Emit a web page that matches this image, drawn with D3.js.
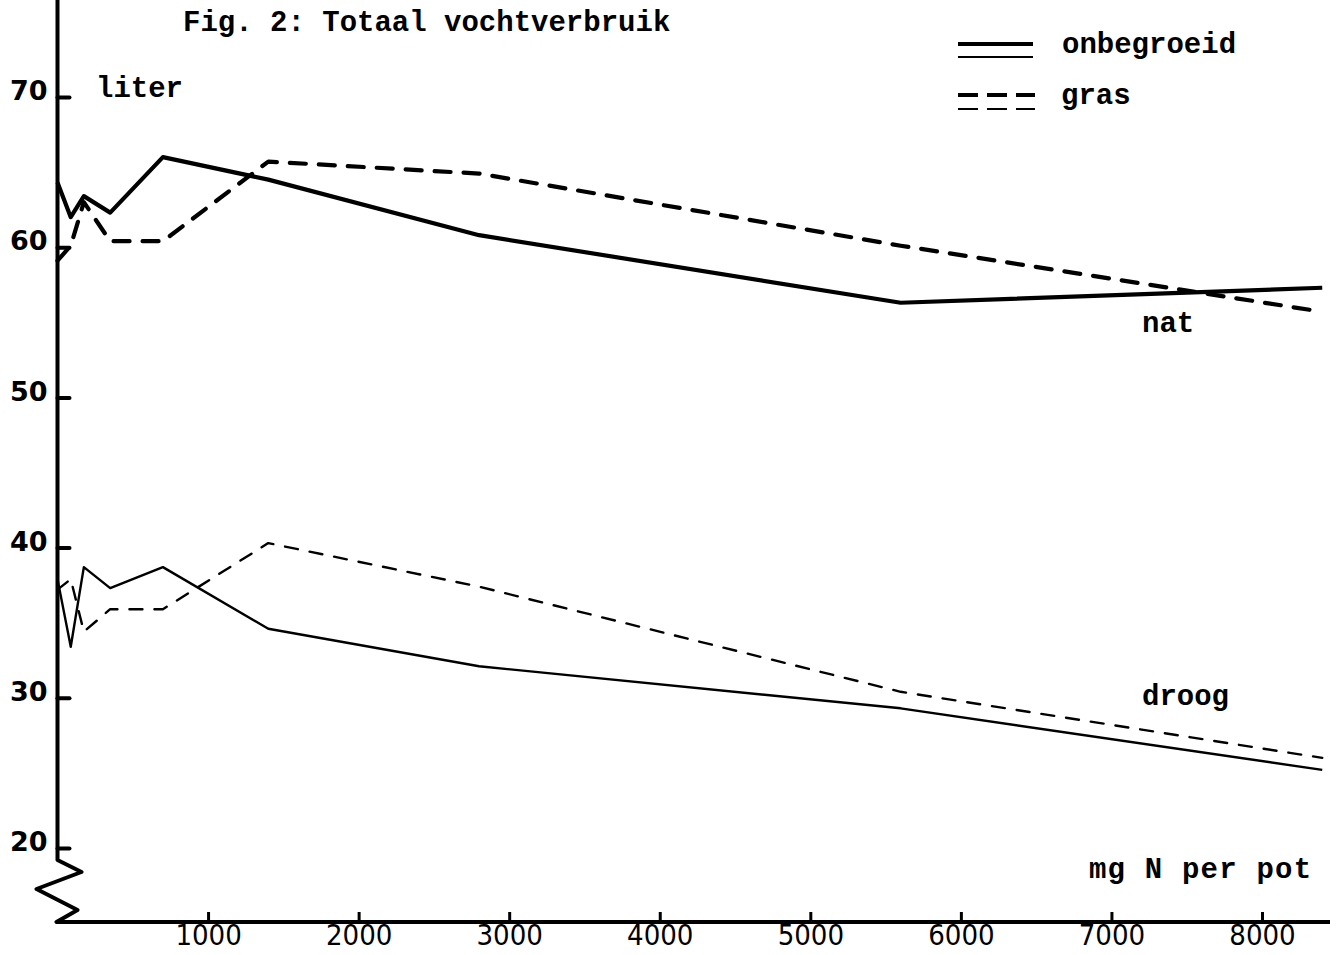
<!DOCTYPE html>
<html>
<head>
<meta charset="utf-8">
<script src="https://cdn.jsdelivr.net/npm/d3@7"></script>
<style>
  html, body { margin: 0; padding: 0; background: #fff; }
  svg { display: block; }
  .tw { font-family: "Liberation Mono", "DejaVu Sans Mono", monospace; font-weight: bold; fill: #000; }
</style>
</head>
<body>
<svg id="chart" width="1341" height="955"></svg>
<script>
// N dose per pot (mg) and total water use (liter)
const doses = [0, 88, 175, 350, 700, 1400, 2800, 5600, 8400];
const onbegroeidNat   = [64.3, 62.0, 63.4, 62.3, 66.0, 64.5, 60.8, 56.3, 57.3];
const grasNat         = [59.1, 60.1, 63.0, 60.4, 60.4, 65.7, 64.9, 60.1, 55.7];
const onbegroeidDroog = [37.9, 33.4, 38.7, 37.3, 38.7, 34.6, 32.1, 29.3, 25.2];
const grasDroog       = [37.2, 37.9, 34.4, 35.9, 35.9, 40.3, 37.4, 30.4, 26.0];

const xTicks = [1000, 2000, 3000, 4000, 5000, 6000, 7000, 8000];
const yTicks = [20, 30, 40, 50, 60, 70];

const svg = d3.select("#chart");
const x = d3.scaleLinear().domain([0, 8000]).range([57.5, 1262]);
const y = d3.scaleLinear().domain([20, 70]).range([848, 97]);
const x0 = x(0);
const axisY = 922;

// Axes lines, with the broken-scale zigzag at the bottom of the vertical axis
svg.append("path")
  .attr("d", `M${x0},0 L${x0},860 L${x0 + 24},872 L${x0 - 21},889 L${x0 + 20},910 L${x0 - 1},${axisY} L1330,${axisY}`)
  .attr("fill", "none").attr("stroke", "#000").attr("stroke-width", 4)
  .attr("stroke-linejoin", "round");

// Vertical axis ticks and labels
const yAxis = d3.axisLeft(y).tickValues(yTicks).tickSize(-12).tickPadding(10).tickFormat(d3.format("d"));
const gy = svg.append("g").attr("transform", `translate(${x0},0)`).call(yAxis);
gy.select(".domain").remove();
gy.selectAll(".tick line").attr("stroke", "#000").attr("stroke-width", 4).attr("stroke-linecap", "round");
gy.selectAll(".tick text")
  .attr("font-family", "DejaVu Sans")
  .attr("font-weight", "bold")
  .attr("font-size", 27)
  .attr("fill", "#000")
  .attr("dy", "0.1em");

// Horizontal axis ticks and labels
const xAxis = d3.axisBottom(x).tickValues(xTicks).tickSize(-10).tickPadding(2).tickFormat(d3.format("d"));
const gx = svg.append("g").attr("transform", `translate(0,${axisY})`).call(xAxis);
gx.select(".domain").remove();
gx.selectAll(".tick line").attr("stroke", "#000").attr("stroke-width", 3);
gx.selectAll(".tick text")
  .attr("font-family", "DejaVu Sans Condensed, DejaVu Sans")
  .attr("font-size", 29)
  .attr("fill", "#000");

// Series lines
const line = d3.line().x((d, i) => x(doses[i])).y(d => y(d));
const series = [
  { values: onbegroeidNat,   width: 4.2, dash: null },
  { values: grasNat,         width: 4.2, dash: "16 13" },
  { values: onbegroeidDroog, width: 2.4, dash: null },
  { values: grasDroog,       width: 2.4, dash: "13 12" }
];
series.forEach(s => {
  svg.append("path")
    .datum(s.values)
    .attr("d", line)
    .attr("fill", "none")
    .attr("stroke", "#000")
    .attr("stroke-width", s.width)
    .attr("stroke-linejoin", "round")
    .attr("stroke-linecap", s.dash ? "round" : "butt")
    .attr("stroke-dasharray", s.dash);
});

// Legend: thick + thin line for each treatment
const lg = svg.append("g");
lg.append("line").attr("x1", 958).attr("x2", 1033).attr("y1", 44).attr("y2", 44).attr("stroke", "#000").attr("stroke-width", 4);
lg.append("line").attr("x1", 958).attr("x2", 1033).attr("y1", 57).attr("y2", 57).attr("stroke", "#000").attr("stroke-width", 2.2);
lg.append("line").attr("x1", 958).attr("x2", 1035).attr("y1", 95).attr("y2", 95).attr("stroke", "#000").attr("stroke-width", 4).attr("stroke-dasharray", "20 9");
lg.append("line").attr("x1", 958).attr("x2", 1035).attr("y1", 109).attr("y2", 109).attr("stroke", "#000").attr("stroke-width", 2.2).attr("stroke-dasharray", "20 9");

// Texts
const texts = [
  { t: "Fig. 2: Totaal vochtverbruik", x: 183, y: 31, ls: 0 },
  { t: "liter", x: 96, y: 97, ls: 0 },
  { t: "onbegroeid", x: 1062, y: 53, ls: 0 },
  { t: "gras", x: 1061, y: 104, ls: 0 },
  { t: "nat", x: 1142, y: 332, ls: 0 },
  { t: "droog", x: 1142, y: 705, ls: 0 },
  { t: "mg N per pot", x: 1089, y: 878, ls: 1.2 }
];
texts.forEach(d => {
  svg.append("text").attr("class", "tw")
    .attr("x", d.x).attr("y", d.y)
    .attr("font-size", 29)
    .attr("letter-spacing", d.ls)
    .text(d.t);
});
</script>
</body>
</html>
